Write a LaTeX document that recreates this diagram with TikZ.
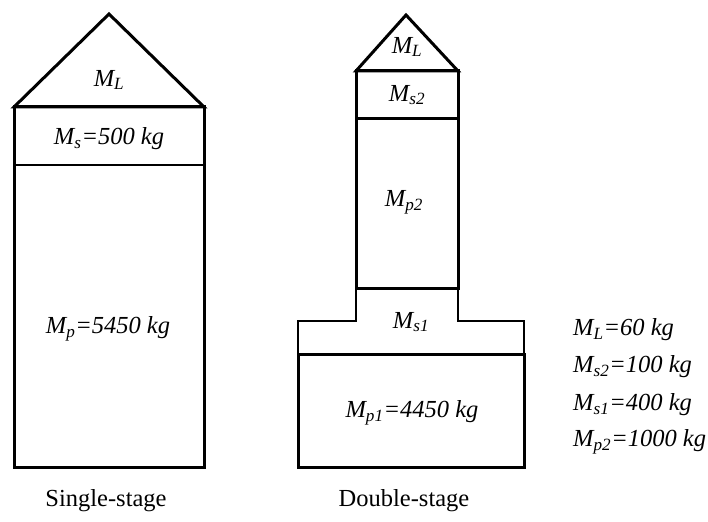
\documentclass[tikz,border=0pt]{standalone}
\usepackage{fontspec}
\setmainfont{Liberation Serif}
\usepackage{tikz}
\newcommand{\mass}[1]{\textit{M}\textsubscript{\textit{#1}}}

\begin{document}
\begin{tikzpicture}[x=1pt, y=-1pt,
  hull/.style={draw=black, line width=3pt, line join=miter},
  split/.style={draw=black, line width=1.8pt},
  lbl/.style={font=\fontsize{24.5}{28}\selectfont\itshape, inner sep=0pt},
  stagename/.style={font=\fontsize{24.5}{28}\selectfont, inner sep=0pt}
]
\useasboundingbox (0,0) rectangle (708,521);

% single stage
\draw[hull] (14,107) -- (109,14) -- (204,107) -- cycle;
\draw[hull] (14,107) rectangle (204,467);
\draw[split] (14,165) -- (204,165);
\node[lbl] (sL) at (109,80) {\mass{L}};
\node[lbl] (sS) at (109,139) {\mass{s}=500 kg};
\node[lbl] (sP) at (108,329) {\mass{p}=5450 kg};
\node[stagename] (single) at (106,501) {Single-stage};

% double stage
\draw[hull] (356,71) -- (406,15) -- (458,71) -- cycle;
\draw[hull] (356,71) rectangle (458,288);
\draw[hull] (356,119) -- (458,119);
\draw[split] (356,288) -- (356,321) -- (298,321) -- (298,354)
  -- (524,354) -- (524,321) -- (458,321) -- (458,288);
\draw[hull] (298,354) rectangle (524,467);
\node[lbl] (dL) at (407,47) {\mass{L}};
\node[lbl] (dS2) at (407,95) {\mass{s2}};
\node[lbl] (dP2) at (404,202) {\mass{p2}};
\node[lbl] (dS1) at (411,322) {\mass{s1}};
\node[lbl] (dP1) at (412,413) {\mass{p1}=4450 kg};
\node[stagename] (double) at (404,501) {Double-stage};

% values
\node[lbl, anchor=west] (vL) at (573,330) {\mass{L}=60 kg};
\node[lbl, anchor=west] (vS2) at (573,367) {\mass{s2}=100 kg};
\node[lbl, anchor=west] (vS1) at (573,405) {\mass{s1}=400 kg};
\node[lbl, anchor=west] (vP2) at (573,442) {\mass{p2}=1000 kg};
\end{tikzpicture}
\end{document}
